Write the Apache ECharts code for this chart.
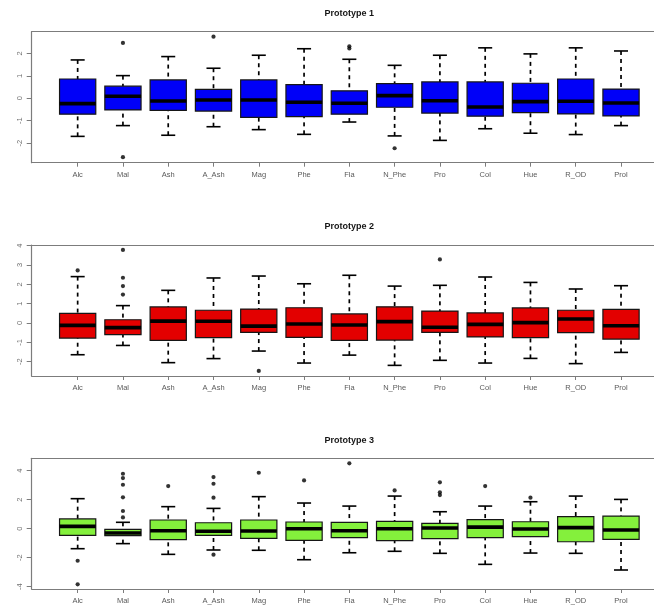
<!DOCTYPE html>
<html>
<head>
<meta charset="utf-8">
<script src="https://cdn.jsdelivr.net/npm/echarts@6/dist/echarts.min.js"></script>
<style>
  html, body { margin: 0; padding: 0; background: #ffffff; }
  #chart { width: 654px; height: 608px; }
</style>
</head>
<body>
<div id="chart"></div>
<script>
// Variables shown along the horizontal axis of every panel
const categories = ['Alc', 'Mal', 'Ash', 'A_Ash', 'Mag', 'Phe', 'Fla', 'N_Phe', 'Pro', 'Col', 'Hue', 'R_OD', 'Prol'];

// Panel titles
const panelTitles = ['Prototype 1', 'Prototype 2', 'Prototype 3'];

// Five-number summaries per variable: [lower whisker, Q1, median, Q3, upper whisker]
const proto1Stats = [
  [-1.70, -0.71, -0.24, 0.86, 1.71],
  [-1.22, -0.52, 0.09, 0.54, 1.01],
  [-1.65, -0.54, -0.12, 0.82, 1.86],
  [-1.27, -0.57, -0.08, 0.40, 1.34],
  [-1.40, -0.85, -0.08, 0.82, 1.92],
  [-1.61, -0.82, -0.18, 0.61, 2.21],
  [-1.06, -0.71, -0.22, 0.33, 1.74],
  [-1.68, -0.40, 0.12, 0.65, 1.47],
  [-1.88, -0.66, -0.11, 0.73, 1.92],
  [-1.36, -0.80, -0.39, 0.73, 2.25],
  [-1.56, -0.64, -0.15, 0.67, 1.98],
  [-1.62, -0.70, -0.13, 0.86, 2.25],
  [-1.22, -0.79, -0.21, 0.41, 2.11]
];
const proto2Stats = [
  [-1.64, -0.78, -0.12, 0.50, 2.40],
  [-1.16, -0.60, -0.24, 0.17, 0.90],
  [-2.05, -0.90, 0.10, 0.83, 1.69],
  [-1.84, -0.76, 0.09, 0.66, 2.33],
  [-1.45, -0.48, -0.16, 0.72, 2.43],
  [-2.07, -0.74, -0.05, 0.79, 2.03],
  [-1.66, -0.90, -0.10, 0.47, 2.47],
  [-2.19, -0.88, 0.07, 0.84, 1.91],
  [-1.93, -0.48, -0.22, 0.62, 1.95],
  [-2.07, -0.72, -0.07, 0.52, 2.38],
  [-1.83, -0.76, 0.02, 0.78, 2.10],
  [-2.10, -0.50, 0.21, 0.66, 1.76],
  [-1.52, -0.83, -0.14, 0.71, 1.93]
];
const proto3Stats = [
  [-1.38, -0.46, 0.16, 0.67, 2.07],
  [-1.03, -0.48, -0.30, -0.05, 0.44],
  [-1.77, -0.76, -0.14, 0.60, 1.52],
  [-1.47, -0.46, -0.18, 0.41, 1.40],
  [-1.49, -0.67, -0.16, 0.60, 2.21],
  [-2.14, -0.80, 0.00, 0.46, 1.77],
  [-1.66, -0.62, -0.14, 0.44, 1.56],
  [-1.56, -0.83, 0.00, 0.51, 2.25],
  [-1.70, -0.69, 0.05, 0.37, 1.17],
  [-2.46, -0.62, 0.11, 0.62, 1.56],
  [-1.68, -0.55, -0.02, 0.48, 1.86],
  [-1.70, -0.90, 0.07, 0.83, 2.25],
  [-2.85, -0.74, -0.09, 0.87, 2.02]
];

// Points beyond the whiskers: [variable, value]
const proto1Outliers = [
  ['Mal', 2.47], ['Mal', -2.63], ['A_Ash', 2.75],
  ['Fla', 2.22], ['Fla', 2.32], ['N_Phe', -2.23]
];
const proto2Outliers = [
  ['Alc', 2.72], ['Mal', 3.78], ['Mal', 2.34], ['Mal', 1.91], ['Mal', 1.47],
  ['Mag', -2.48], ['Pro', 3.29]
];
const proto3Outliers = [
  ['Alc', -2.21], ['Alc', -3.84],
  ['Mal', 3.79], ['Mal', 3.49], ['Mal', 3.03], ['Mal', 2.16], ['Mal', 1.22], ['Mal', 0.78],
  ['Ash', 2.94],
  ['A_Ash', 3.56], ['A_Ash', 3.10], ['A_Ash', 2.14], ['A_Ash', -1.79],
  ['Mag', 3.86], ['Phe', 3.33], ['Fla', 4.51], ['N_Phe', 2.64],
  ['Pro', 3.20], ['Pro', 2.51], ['Pro', 2.32],
  ['Col', 2.94], ['Hue', 2.14]
];

// Labelled tick values on each vertical axis
const proto1Ticks = [-2, -1, 0, 1, 2];
const proto2Ticks = [-2, -1, 0, 1, 2, 3, 4];
const proto3Ticks = [-4, -2, 0, 2, 4];

const catPositions = categories.map((_, i) => i + 1);

const panels = [
  { stats: proto1Stats, outliers: proto1Outliers, ticks: proto1Ticks, fill: '#0000f8',
    yMin: -2.875, yMax: 2.97, top: 31.7, height: 131 },
  { stats: proto2Stats, outliers: proto2Outliers, ticks: proto2Ticks, fill: '#e30000',
    yMin: -2.74, yMax: 4.035, top: 245, height: 131 },
  { stats: proto3Stats, outliers: proto3Outliers, ticks: proto3Ticks, fill: '#84f03c',
    yMin: -4.16, yMax: 4.855, top: 458.3, height: 130.7 }
];

// The plotting region is open on the right: it runs to the canvas edge,
// so the visible x range stops short of the last half unit.
const FRAME_LEFT = 31.7;
const UNIT_PX = 45.28;
const X_MIN = -0.015;
const X_MAX = X_MIN + (654 - FRAME_LEFT) / UNIT_PX;
const TITLE_CENTER = FRAME_LEFT + (14.03 * UNIT_PX) / 2;
const LABEL_FONT = '"Liberation Sans", Arial, sans-serif';
const FRAME_COLOR = '#7c7c7c';

// Box, dashed whiskers, staples and heavy median for one variable
function makeBoxRenderer(fill) {
  return function (params, api) {
    const x = api.value(0);
    const lo = api.value(1), q1 = api.value(2), med = api.value(3), q3 = api.value(4), hi = api.value(5);
    const boxW = api.size([0.8, 0])[0];
    const capW = api.size([0.31, 0])[0];
    const pLo = api.coord([x, lo]);
    const pQ1 = api.coord([x, q1]);
    const pMed = api.coord([x, med]);
    const pQ3 = api.coord([x, q3]);
    const pHi = api.coord([x, hi]);
    const cx = pMed[0];
    const dashStyle = { stroke: '#000', lineWidth: 1.7, lineDash: [4, 4], fill: null };
    const capStyle = { stroke: '#000', lineWidth: 1.6, fill: null };
    return {
      type: 'group',
      children: [
        { type: 'line', shape: { x1: cx, y1: pHi[1], x2: cx, y2: pQ3[1] }, style: dashStyle },
        { type: 'line', shape: { x1: cx, y1: pLo[1], x2: cx, y2: pQ1[1] }, style: dashStyle },
        { type: 'line', shape: { x1: cx - capW / 2, y1: pHi[1], x2: cx + capW / 2, y2: pHi[1] }, style: capStyle },
        { type: 'line', shape: { x1: cx - capW / 2, y1: pLo[1], x2: cx + capW / 2, y2: pLo[1] }, style: capStyle },
        { type: 'rect', shape: { x: cx - boxW / 2, y: pQ3[1], width: boxW, height: pQ1[1] - pQ3[1] },
          style: { fill: fill, stroke: '#161616', lineWidth: 1.2 } },
        { type: 'line', shape: { x1: cx - boxW / 2, y1: pMed[1], x2: cx + boxW / 2, y2: pMed[1] },
          style: { stroke: '#000', lineWidth: 3.6 } }
      ]
    };
  };
}

const grid = [], xAxis = [], yAxis = [], series = [], title = [];

panels.forEach((p, i) => {
  grid.push({ left: FRAME_LEFT, top: p.top, right: 0, height: p.height, show: false });
  // bottom axis: ticks and variable names
  xAxis.push({
    type: 'value', gridIndex: i, position: 'bottom', min: X_MIN, max: X_MAX,
    splitLine: { show: false },
    axisLine: { show: true, onZero: false, lineStyle: { color: FRAME_COLOR, width: 1.2 } },
    axisTick: { show: true, customValues: catPositions, length: 4, lineStyle: { color: FRAME_COLOR, width: 1 } },
    axisLabel: {
      show: true, customValues: catPositions, margin: 8, showMinLabel: true, showMaxLabel: true,
      formatter: v => categories[Math.round(v) - 1] || '',
      fontSize: 7.5, color: '#5a5a5a', fontFamily: LABEL_FONT
    }
  });
  // top axis: only the upper edge of the frame
  xAxis.push({
    type: 'value', gridIndex: i, position: 'top', min: X_MIN, max: X_MAX,
    splitLine: { show: false },
    axisLine: { show: true, onZero: false, lineStyle: { color: FRAME_COLOR, width: 1.2 } },
    axisTick: { show: false },
    axisLabel: { show: false }
  });
  yAxis.push({
    type: 'value', gridIndex: i, min: p.yMin, max: p.yMax,
    splitLine: { show: false },
    axisLine: { show: true, onZero: false, lineStyle: { color: FRAME_COLOR, width: 1.2 } },
    axisTick: { show: true, customValues: p.ticks, length: 5, lineStyle: { color: FRAME_COLOR, width: 1 } },
    axisLabel: {
      show: true, customValues: p.ticks, rotate: 90, margin: 8,
      fontSize: 7.5, color: '#707070', fontFamily: LABEL_FONT
    }
  });
  title.push({
    text: panelTitles[i],
    left: TITLE_CENTER, top: p.top - 22.5, textAlign: 'center', padding: 0,
    textStyle: { fontSize: 9, fontWeight: 'bold', color: '#151515', fontFamily: LABEL_FONT }
  });
  series.push({
    type: 'custom', xAxisIndex: 2 * i, yAxisIndex: i,
    renderItem: makeBoxRenderer(p.fill),
    encode: { x: 0, y: [1, 2, 3, 4, 5] },
    data: p.stats.map((s, k) => [k + 1].concat(s)),
    clip: false, silent: true
  });
  series.push({
    type: 'scatter', xAxisIndex: 2 * i, yAxisIndex: i,
    symbol: 'circle', symbolSize: 4.2,
    itemStyle: { color: '#000' },
    data: p.outliers.map(o => [categories.indexOf(o[0]) + 1, o[1]]),
    silent: true
  });
});

const chart = echarts.init(document.getElementById('chart'), null, { renderer: 'canvas' });
chart.setOption({
  animation: false,
  backgroundColor: '#ffffff',
  title: title,
  grid: grid,
  xAxis: xAxis,
  yAxis: yAxis,
  series: series
});
</script>
</body>
</html>
